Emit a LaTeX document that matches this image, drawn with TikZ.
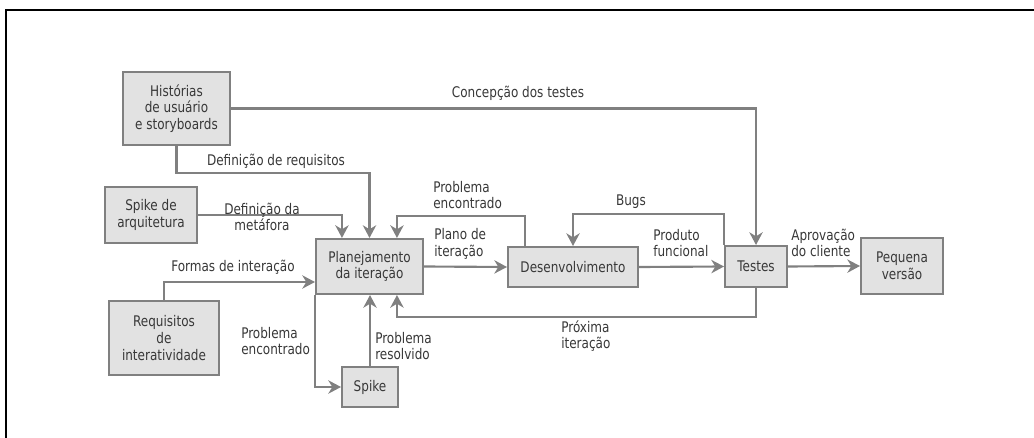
\documentclass[tikz,border=0pt]{standalone}
\usepackage{fontspec}
\setmainfont[FakeStretch=0.82]{DejaVu Sans}
\usetikzlibrary{arrows.meta,calc}
\definecolor{boxfill}{HTML}{E2E2E2}
\definecolor{linegray}{HTML}{808080}
\definecolor{txtgray}{HTML}{383838}
\begin{document}
\begin{tikzpicture}[x=0.75pt,y=-0.75pt,
    font=\fontsize{11}{12.5}\selectfont, text=txtgray,
    box/.style={draw=linegray, line width=1.5pt, fill=boxfill, align=center, inner sep=1pt},
    arr/.style={draw=linegray, line width=1.6pt, -{Stealth[length=9.5pt,width=10pt,inset=3pt]}},
    lbl/.style={align=left, anchor=west, inner sep=0pt}]
        \useasboundingbox (0,0) rectangle (1034,438);
        \draw[line width=2.2pt] (6,438) -- (6,10) -- (1034,10);

        % boxes
        \node[box, minimum width=80.3pt, minimum height=54.8pt] (hist) at (176.5,108.5) {Histórias\\de usuário\\e storyboards};
        \node[box, minimum width=69pt, minimum height=42pt] (sparq) at (151,215) {Spike de\\arquitetura};
        \node[box, minimum width=82.5pt, minimum height=55.5pt] (req) at (164,338) {Requisitos\\de\\interatividade};
        \node[box, minimum width=80.3pt, minimum height=41.3pt] (plan) at (369.5,266.5) {Planejamento\\da iteração};
        \node[box, minimum width=42pt, minimum height=30pt] (spike) at (370,387) {Spike};
        \node[box, minimum width=97.5pt, minimum height=30pt] (desen) at (573,267) {Desenvolvimento};
        \node[box, minimum width=46.5pt, minimum height=30.8pt] (testes) at (756,266.5) {Testes};
        \node[box, minimum width=61.5pt, minimum height=42pt] (peq) at (902,266) {Pequena\\versão};

        % ports on the planning box
        \coordinate (plan-n1) at ($(plan.north west)+(27,0)$);
        \coordinate (plan-n3) at ($(plan.north west)+(82,0)$);
        \coordinate (plan-w1) at ($(plan.west)+(0,15.5)$);
        \coordinate (plan-s2) at ($(plan.south west)+(82,0)$);
        \coordinate (desen-n1) at ($(desen.north west)+(18,0)$);

        % connectors
        \draw[arr] (hist.east) -| (testes.north);
        \draw[arr] (hist.south) |- ($(plan.north)+(0,-65)$) -- (plan.north);
        \draw[arr] (sparq.east) -| (plan-n1);
        \draw[arr] (req.north) |- (plan-w1);
        \draw[arr] (plan.south west) |- (spike.west);
        \draw[arr] (spike.north) -- (spike.north |- plan.south);
        \draw[arr] (testes.south) |- ($(plan-s2)+(0,22)$) -- (plan-s2);
        \draw[arr] (desen-n1) |- ($(plan-n3)+(0,-22)$) -- (plan-n3);
        \draw[arr] (plan.east) -- (desen.west);
        \draw[arr] (testes.north west) |- ($(desen.north)+(0,-32)$) -- (desen.north);
        \draw[arr] (desen.east) -- (testes.west);
        \draw[arr] (testes.east) -- (peq.west);

        % labels
        \node (l-conc) at (518,93) {Concepção dos testes};
        \node (l-defr) at (276,161) {Definição de requisitos};
        \node[align=center] (l-defm) at (262,217) {Definição da\\metáfora};
        \node (l-form) at (233,267) {Formas de interação};
        \node[lbl] (l-prob1) at (433,195) {Problema\\encontrado};
        \node[lbl] (l-plano) at (434,244) {Plano de\\iteração};
        \node (l-bugs) at (631,202) {Bugs};
        \node[lbl] (l-prod) at (653,243) {Produto\\funcional};
        \node[lbl] (l-aprov) at (791,243) {Aprovação\\do cliente};
        \node[lbl] (l-prob2) at (241,341) {Problema\\encontrado};
        \node[lbl] (l-resol) at (375,346) {Problema\\resolvido};
        \node[lbl] (l-prox) at (561,336) {Próxima\\iteração};
\end{tikzpicture}
\end{document}
